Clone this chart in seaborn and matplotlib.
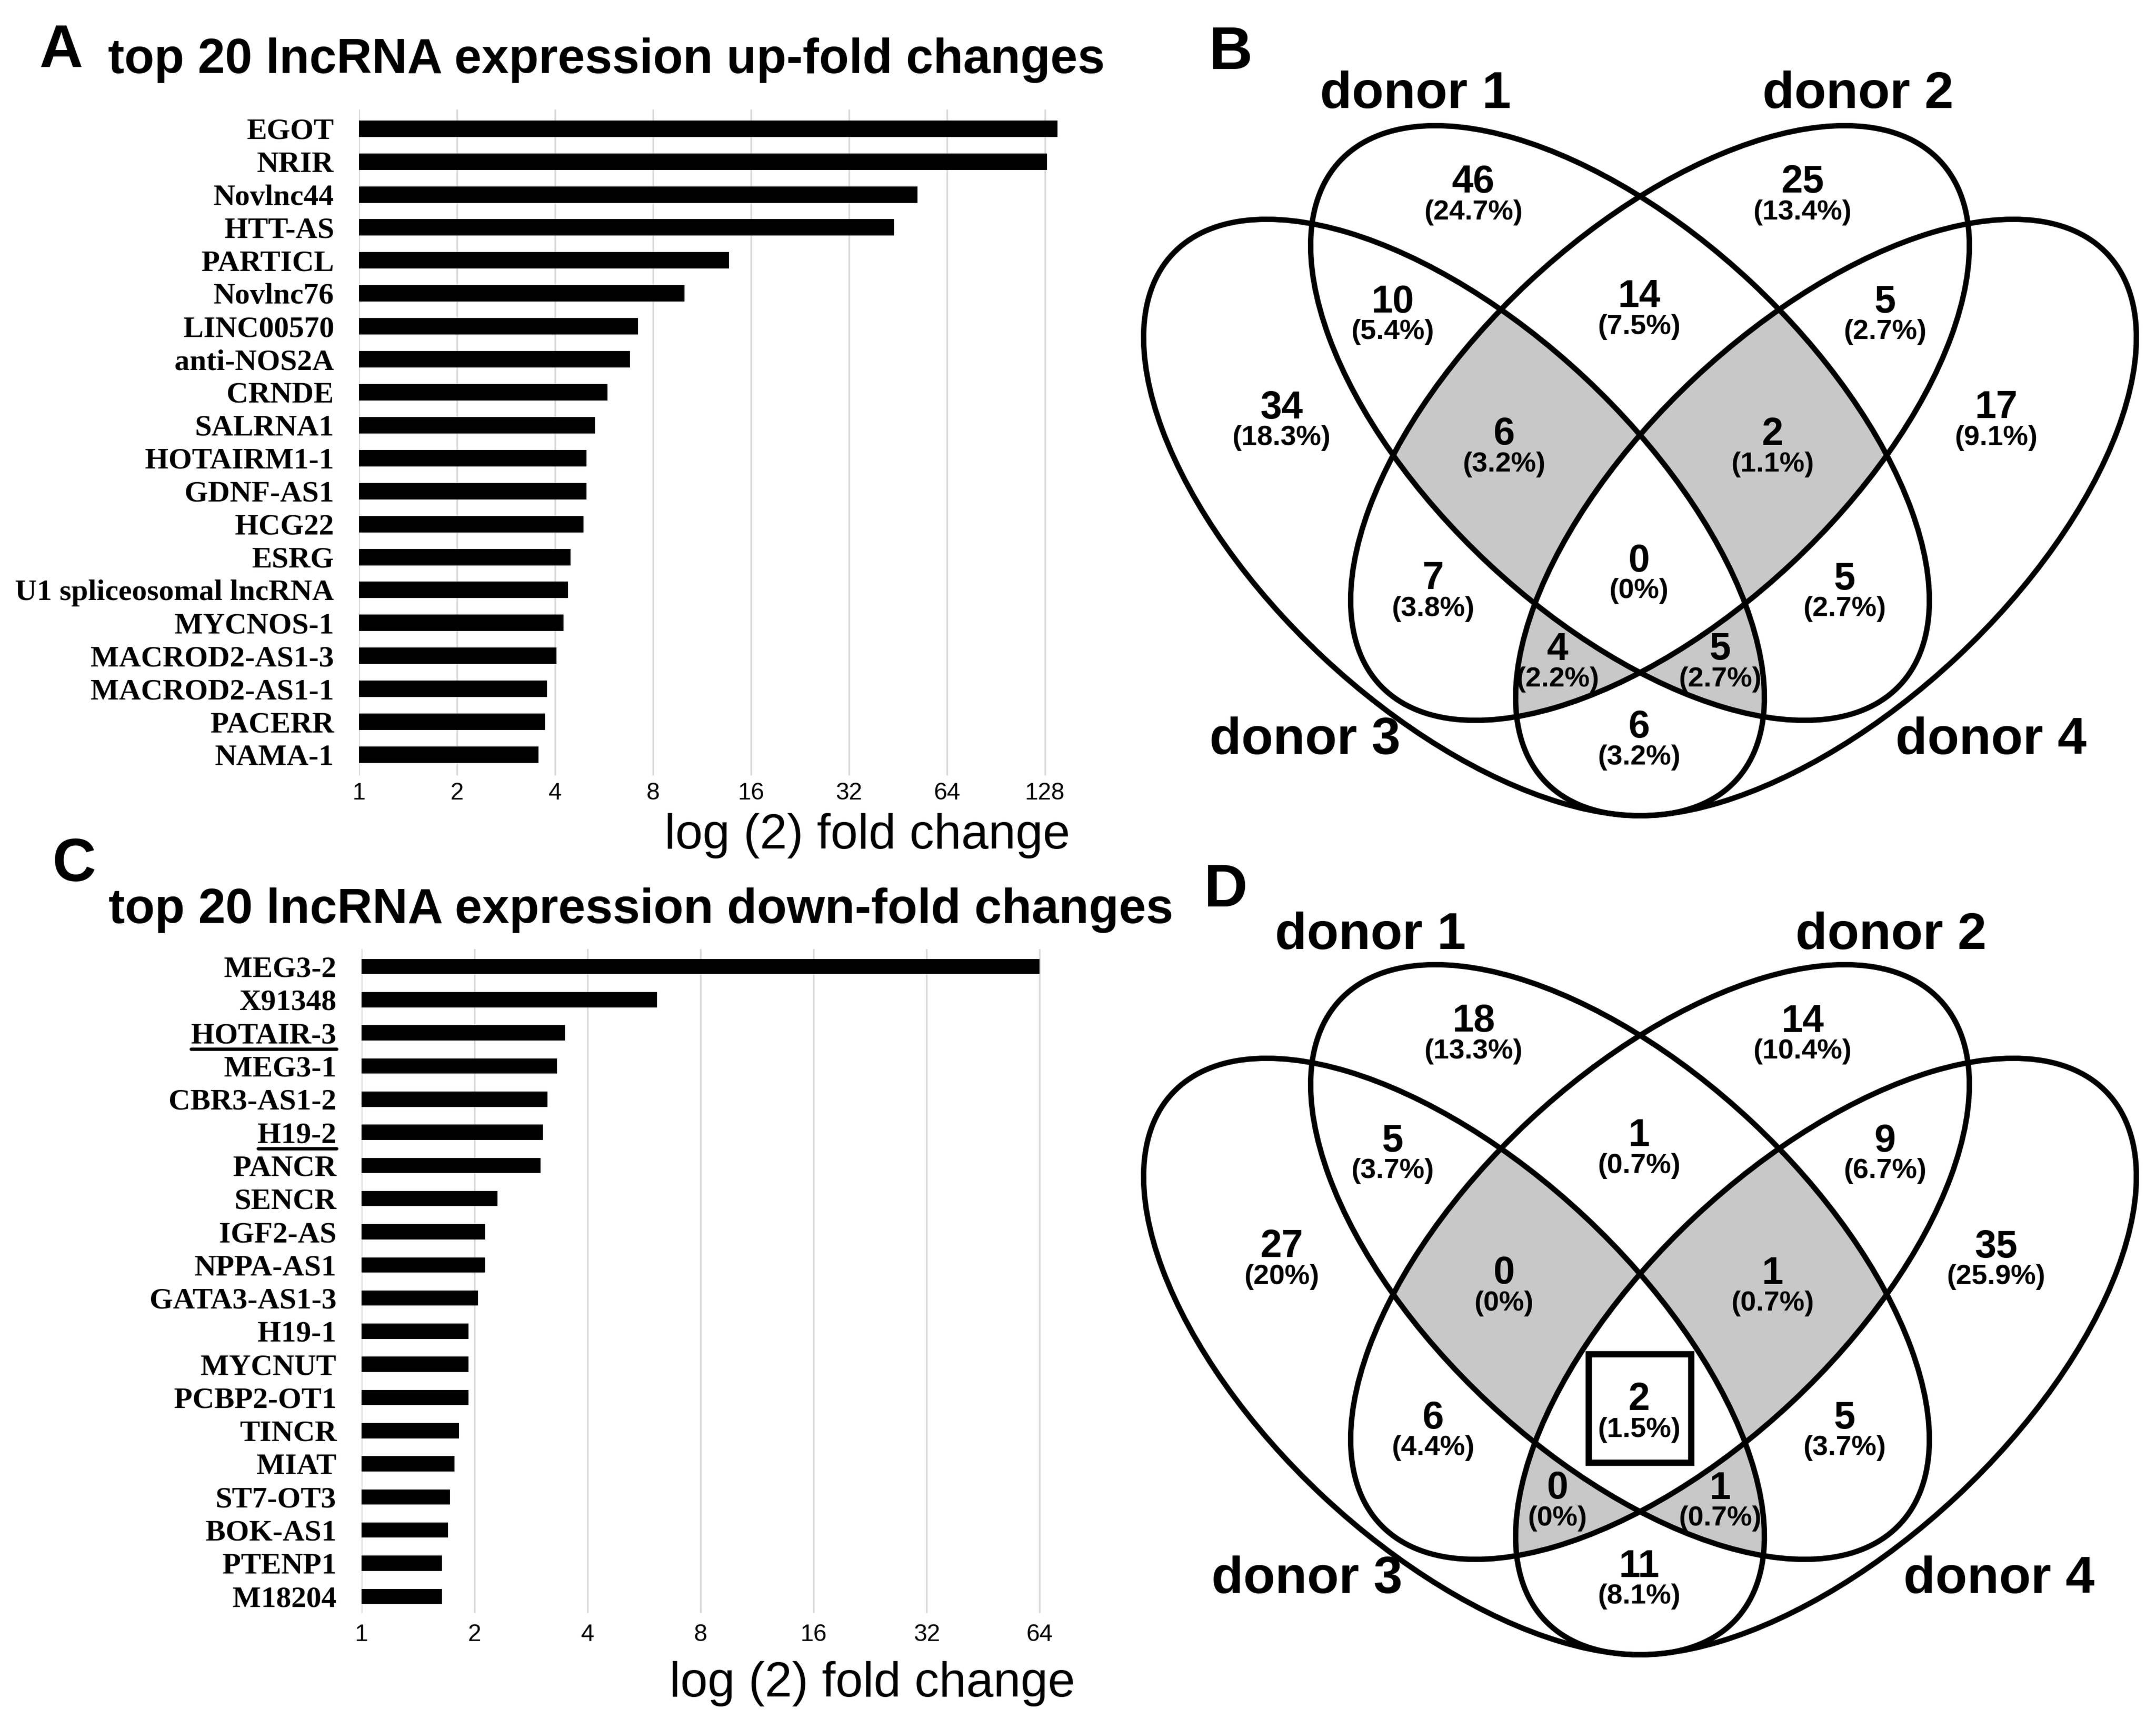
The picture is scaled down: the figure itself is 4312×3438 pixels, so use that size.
import numpy as np
import matplotlib
matplotlib.use("Agg")
import matplotlib.pyplot as plt
import seaborn as sns
from matplotlib.patches import Ellipse, Rectangle
from matplotlib.lines import Line2D
from matplotlib.ticker import NullLocator

# ---------------- data ----------------
up_genes = ["EGOT", "NRIR", "Novlnc44", "HTT-AS", "PARTICL", "Novlnc76", "LINC00570",
            "anti-NOS2A", "CRNDE", "SALRNA1", "HOTAIRM1-1", "GDNF-AS1", "HCG22", "ESRG",
            "U1 spliceosomal lncRNA", "MYCNOS-1", "MACROD2-AS1-3", "MACROD2-AS1-1",
            "PACERR", "NAMA-1"]
up_fold = [140, 130, 52, 44, 13.7, 10.0, 7.2, 6.8, 5.8, 5.3, 5.0, 5.0, 4.9, 4.47,
           4.38, 4.25, 4.04, 3.78, 3.73, 3.56]
down_genes = ["MEG3-2", "X91348", "HOTAIR-3", "MEG3-1", "CBR3-AS1-2", "H19-2", "PANCR",
              "SENCR", "IGF2-AS", "NPPA-AS1", "GATA3-AS1-3", "H19-1", "MYCNUT",
              "PCBP2-OT1", "TINCR", "MIAT", "ST7-OT3", "BOK-AS1", "PTENP1", "M18204"]
down_fold = [64, 6.13, 3.48, 3.32, 3.13, 3.04, 3.0, 2.30, 2.13, 2.13, 2.04, 1.93, 1.93,
             1.93, 1.82, 1.77, 1.72, 1.70, 1.64, 1.64]
underlined = ["HOTAIR-3", "H19-2"]
up_ticks = [1, 2, 4, 8, 16, 32, 64, 128]
down_ticks = [1, 2, 4, 8, 16, 32, 64]
title_up = "top 20 lncRNA expression up-fold changes"
title_down = "top 20 lncRNA expression down-fold changes"
xlabel_text = "log (2) fold change"

donor_names = ["donor 1", "donor 2", "donor 3", "donor 4"]
# regions: 1, 2, 3, 4, 1&3, 1&2, 2&4, 1&2&3, 1&2&4, 2&3, all, 1&4, 2&3&4, 1&3&4, 3&4
venn_B_counts = [46, 25, 34, 17, 10, 14, 5, 6, 2, 7, 0, 5, 4, 5, 6]
venn_B_pcts = ["24.7%", "13.4%", "18.3%", "9.1%", "5.4%", "7.5%", "2.7%", "3.2%",
               "1.1%", "3.8%", "0%", "2.7%", "2.2%", "2.7%", "3.2%"]
venn_D_counts = [18, 14, 27, 35, 5, 1, 9, 0, 1, 6, 2, 5, 0, 1, 11]
venn_D_pcts = ["13.3%", "10.4%", "20%", "25.9%", "3.7%", "0.7%", "6.7%", "0%",
               "0.7%", "4.4%", "1.5%", "3.7%", "0%", "0.7%", "8.1%"]

# ---------------- layout (pixel units of the 4312x3438 canvas) ----------------
W, H, DPI = 4312, 3438, 300
sns.set_style("white")
plt.rcParams["font.family"] = ["Liberation Sans", "DejaVu Sans"]
for key in ("text.color", "axes.labelcolor", "xtick.color", "ytick.color"):
    plt.rcParams[key] = "black"

fig = plt.figure(figsize=(W / DPI, H / DPI), dpi=DPI)


def fx(x):
    return x / W


def fy(y):
    return 1 - y / H


NARROW = ["Liberation Sans Narrow", "Liberation Sans", "DejaVu Sans"]


def bar_panel(rect, genes, values, ticks, xmax_exp, ylim, bar_w, tick_pad):
    x0, y0, x1, y1 = rect
    ax = fig.add_axes([fx(x0), fy(y1), (x1 - x0) / W, (y1 - y0) / H])
    sns.barplot(x=values, y=genes, orient="h", color="black", saturation=1,
                width=bar_w, errorbar=None, ax=ax, log_scale=2, zorder=3)
    ax.set_xscale("log", base=2)
    ax.set_xlim(1, 2 ** xmax_exp)
    ax.set_ylim(*ylim)
    ax.set_xticks(ticks)
    ax.set_xticklabels([str(t) for t in ticks])
    ax.xaxis.set_minor_locator(NullLocator())
    ax.set_axisbelow(True)
    ax.xaxis.grid(True, color="#d9d9d9", lw=0.8)
    ax.yaxis.grid(False)
    for s in ax.spines.values():
        s.set_visible(False)
    ax.tick_params(axis="x", length=0, pad=tick_pad)
    ax.tick_params(axis="y", length=0, pad=12)
    for lbl in ax.get_xticklabels():
        lbl.set_fontfamily(NARROW)
        lbl.set_fontsize(11.5)
        lbl.set_color("black")
    for lbl in ax.get_yticklabels():
        lbl.set_fontfamily(["Liberation Serif", "DejaVu Serif"])
        lbl.set_fontweight("bold")
        lbl.set_fontsize(14.5)
        lbl.set_color("black")
    ax.set_xlabel("")
    ax.set_ylabel("")
    for b in ax.patches:
        b.set_edgecolor("none")
    return ax


axA = bar_panel((718, 219, 2129, 1551), up_genes, up_fold, up_ticks, 7.2,
                (19.63, -0.58), 0.5, 3)
axC = bar_panel((723, 1898, 2102, 3226), down_genes, down_fold, down_ticks, 6.1,
                (19.5, -0.53), 0.46, 5)

# titles, panel letters, axis labels
fig.text(fx(79), fy(134), "A", fontsize=29, fontweight="bold", ha="left", va="baseline")
fig.text(fx(105), fy(1762), "C", fontsize=29, fontweight="bold", ha="left", va="baseline")
fig.text(fx(2418), fy(138), "B", fontsize=29, fontweight="bold", ha="left", va="baseline")
fig.text(fx(2408), fy(1813), "D", fontsize=29, fontweight="bold", ha="left", va="baseline")
fig.text(fx(216), fy(146), title_up, fontsize=23.5, fontweight="bold", ha="left", va="baseline")
fig.text(fx(217), fy(1846), title_down, fontsize=23.5, fontweight="bold", ha="left", va="baseline")
fig.text(fx(2140), fy(1697), xlabel_text, fontsize=23.5, ha="right", va="baseline")
fig.text(fx(2150), fy(3393), xlabel_text, fontsize=23.5, ha="right", va="baseline")

# underline selected labels in panel C
fig.canvas.draw()
renderer = fig.canvas.get_renderer()
for lbl in axC.get_yticklabels():
    if lbl.get_text() in underlined:
        bb = lbl.get_window_extent(renderer)
        row = down_genes.index(lbl.get_text())
        yc = axC.transData.transform((1, row))[1] - 32
        fig.add_artist(Line2D([bb.x0 / W, bb.x1 / W], [yc / H, yc / H],
                              transform=fig.transFigure, color="black", lw=1.6))

# ---------------- Venn diagrams ----------------
vax = fig.add_axes([fx(2250), 0, (W - 2250) / W, 1])
vax.set_xlim(2250, W)
vax.set_ylim(H, 0)
vax.axis("off")

ellipses = [(3240, 846, 767, 385, 43.1),    # donor 1
            (3320, 846, 767, 385, -43.1),   # donor 2
            (2908, 1035, 771, 383, 43.1),   # donor 3
            (3652, 1035, 771, 383, -43.1)]  # donor 4
D_SHIFT = 1678

xs = np.arange(2250, W + 1, 2.0)
ys = np.arange(0, H + 1, 2.0)
XX, YY = np.meshgrid(xs, ys)
count = np.zeros_like(XX)
for shift in (0, D_SHIFT):
    for cx, cy, a, b, ang in ellipses:
        th = np.deg2rad(ang)
        dx = XX - cx
        dy = YY - (cy + shift)
        u = dx * np.cos(th) + dy * np.sin(th)
        v = -dx * np.sin(th) + dy * np.cos(th)
        count += ((u / a) ** 2 + (v / b) ** 2) <= 1.0
vax.contourf(XX, YY, count, levels=[2.5, 3.5], colors=["#c8c8c8"], zorder=1)

for shift in (0, D_SHIFT):
    for cx, cy, a, b, ang in ellipses:
        vax.add_patch(Ellipse((cx, cy + shift), 2 * a, 2 * b, angle=ang, fill=False,
                              lw=2.6, ec="black", zorder=3))

region_pos = [(2947, 365), (3605, 365), (2563, 816), (3992, 816), (2785, 604),
              (3278, 594), (3770, 604), (3008, 869), (3545, 869), (2866, 1158),
              (3278, 1122), (3689, 1158), (3115, 1299), (3440, 1299), (3278, 1455)]

for shift, counts, pcts in ((0, venn_B_counts, venn_B_pcts),
                            (D_SHIFT, venn_D_counts, venn_D_pcts)):
    for (x, y), n, p in zip(region_pos, counts, pcts):
        vax.text(x, y + shift, str(n), fontsize=18.5, fontweight="bold",
                 ha="center", va="center", zorder=5)
        vax.text(x, y + shift + 60, "(" + p + ")", fontsize=13.5, fontweight="bold",
                 ha="center", va="center", zorder=5)

label_pos_B = [(2831, 216), (3716, 216), (2610, 1508), (3982, 1508)]
label_pos_D = [(2741, 1898), (3782, 1898), (2614, 3186), (3998, 3186)]
for positions in (label_pos_B, label_pos_D):
    for (x, y), name in zip(positions, donor_names):
        vax.text(x, y, name, fontsize=25, fontweight="bold", ha="center",
                 va="baseline", zorder=5)

# highlight box around the shared region in panel D
vax.add_patch(Rectangle((3177, 2708), 205, 217, fill=False, lw=3.0, ec="black", zorder=4))

fig.savefig("out.png", dpi=DPI, facecolor="white")
